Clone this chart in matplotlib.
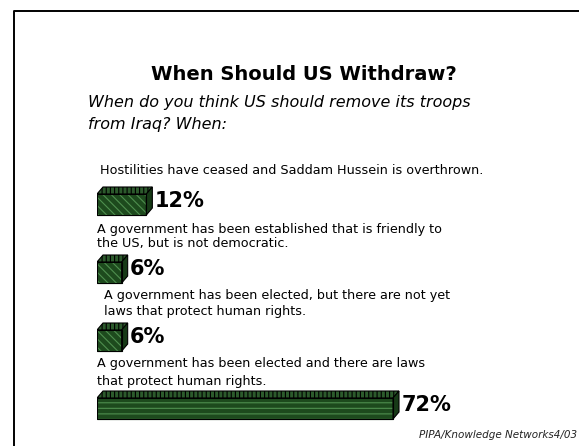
import numpy as np
import matplotlib.pyplot as plt
from matplotlib.patches import Polygon

W, H = 579, 446

title = "When Should US Withdraw?"
question = ["When do you think US should remove its troops", "from Iraq? When:"]
options = [
    ["Hostilities have ceased and Saddam Hussein is overthrown."],
    ["A government has been established that is friendly to", "the US, but is not democratic."],
    ["A government has been elected, but there are not yet", "laws that protect human rights."],
    ["A government has been elected and there are laws", "that protect human rights."],
]
values = [12, 6, 6, 72]
source = "PIPA/Knowledge Networks4/03"

plt.rcParams['font.family'] = ['DejaVu Sans']

fig = plt.figure(figsize=(W / 100, H / 100), dpi=100)
fig.patch.set_facecolor('white')

def fx(x):
    return x / W

def fy(y):
    return 1 - y / H

# frame on the left and top
frame = fig.add_axes([0, 0, 1, 1])
frame.set_xlim(0, W)
frame.set_ylim(H, 0)
frame.axis('off')
frame.plot([14, 14, W], [H, 10.5, 10.5], color='black', lw=1.4)

fig.text(fx(304), fy(74), title, ha='center', va='center',
         fontsize=14, fontweight='bold')
fig.text(fx(88), fy(103), question[0], ha='left', va='center',
         fontsize=11.5, style='italic')
fig.text(fx(88), fy(125), question[1], ha='left', va='center',
         fontsize=11.5, style='italic')

# option captions above each bar
cap_x = [100, 97, 104, 97]
cap_y = [[170], [229, 244], [296, 312], [364, 381]]
for lines, x, ys in zip(options, cap_x, cap_y):
    for line, y in zip(lines, ys):
        fig.text(fx(x), fy(y), line, ha='left', va='center', fontsize=9.2)

fig.text(fx(577), fy(435), source, ha='right', va='center',
         fontsize=7.5, style='italic', color='#222222')

# bar axes: 0..100 percent, rows 0..3
row_px = 68
left_px, pct_px = 97, 296 / 72
ax = fig.add_axes([fx(left_px), fy(204.5 + 3.5 * row_px),
                   100 * pct_px / W, 4 * row_px / H])
ax.set_xlim(0, 100)
ax.set_ylim(3.5, -0.5)
ax.axis('off')

rows = np.arange(len(values))
bh = 21 / row_px
dx = 6 / pct_px
dy = 7 / row_px

hatches = ['\\\\\\\\', '\\\\\\\\', '\\\\\\\\', '---']
plt.rcParams['hatch.linewidth'] = 0.8
bars = ax.barh(rows, values, height=bh, color='#1d4a1d', edgecolor='black',
               linewidth=0.8, zorder=3)
for bar, h in zip(bars, hatches):
    bar.set_hatch(h)
    bar.set_edgecolor('#4f8f4f')
# outline over the hatch
ax.barh(rows, values, height=bh, fill=False, edgecolor='black',
        linewidth=0.8, zorder=4)

for r, v in zip(rows, values):
    y0, y1 = r - bh / 2, r + bh / 2
    top = Polygon([(0, y0), (v, y0), (v + dx, y0 - dy), (dx, y0 - dy)],
                  closed=True, facecolor='#2c5a2c', edgecolor='black',
                  linewidth=0.8, hatch='||||', zorder=3)
    side = Polygon([(v, y0), (v + dx, y0 - dy), (v + dx, y1 - dy), (v, y1)],
                   closed=True, facecolor='#173a17', edgecolor='black',
                   linewidth=0.8, zorder=3)
    ax.add_patch(top)
    ax.add_patch(side)
    ax.text(v + dx + 0.6, r - dy / 2, f"{v}%", ha='left', va='center',
            fontsize=15, fontweight='bold')

fig.savefig('out.png', dpi=100)
